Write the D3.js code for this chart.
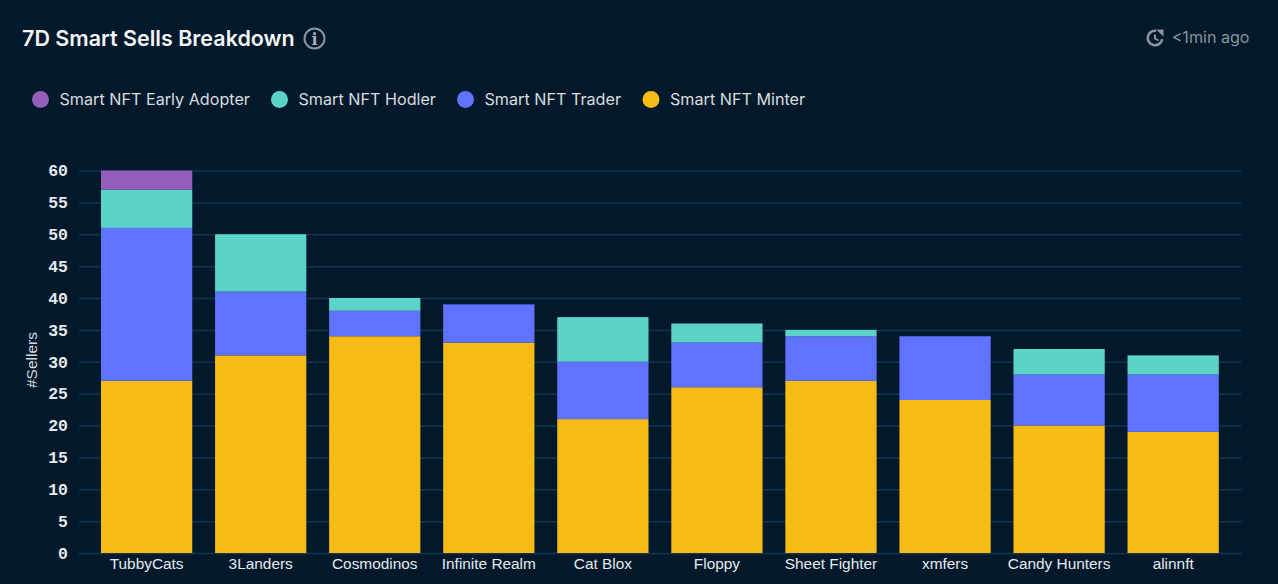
<!DOCTYPE html>
<html>
<head>
<meta charset="utf-8">
<script src="https://cdn.jsdelivr.net/npm/d3@7"></script>
<style>
html, body { margin: 0; padding: 0; background: #02192c; overflow: hidden; }
svg { display: block; }
text { font-family: Inter, sans-serif; }
</style>
</head>
<body>
<script>
var categories = ["TubbyCats", "3Landers", "Cosmodinos", "Infinite Realm", "Cat Blox", "Floppy", "Sheet Fighter", "xmfers", "Candy Hunters", "alinnft"];
var minter = [27, 31, 34, 33, 21, 26, 27, 24, 20, 19];
var trader = [24, 10, 4, 6, 9, 7, 7, 10, 8, 9];
var hodler = [6, 9, 2, 0, 7, 3, 1, 0, 4, 3];
var earlyAdopter = [3, 0, 0, 0, 0, 0, 0, 0, 0, 0];
var seriesNames = ["Smart NFT Minter", "Smart NFT Trader", "Smart NFT Hodler", "Smart NFT Early Adopter"];
var seriesColors = ["#f6bc15", "#6073ff", "#5bd3c9", "#945ebb"];
var yTicks = [0, 5, 10, 15, 20, 25, 30, 35, 40, 45, 50, 55, 60];

var seriesValues = [minter, trader, hodler, earlyAdopter];

var svg = d3.select("body").append("svg")
    .attr("width", 1278)
    .attr("height", 584);

var x = d3.scaleBand().domain(categories).range([78.2, 1241.6]).padding(0.2);
var y = d3.scaleLinear().domain([0, 60]).range([553, 170.5]);

// grid + y axis
var yAxis = svg.append("g")
    .attr("transform", "translate(79,0)")
    .call(d3.axisLeft(y).tickValues(yTicks).tickSize(0).tickPadding(11));
yAxis.select(".domain").remove();
yAxis.selectAll("text")
    .attr("fill", "#e6e9ec")
    .attr("font-size", 16.5)
    .attr("font-weight", 700)
    .style("font-family", "'Liberation Mono', monospace");
yAxis.selectAll(".tick").append("line")
    .attr("x2", 1162.5)
    .attr("stroke", "#113550")
    .attr("stroke-width", 1.5);

// stacked bars, minter at the bottom
var rows = categories.map(function(c, i) {
    var row = {name: c};
    seriesNames.forEach(function(s, j) { row[s] = seriesValues[j][i]; });
    return row;
});
var stacked = d3.stack().keys(seriesNames)(rows);

svg.selectAll(".layer")
    .data(stacked)
    .enter().append("g")
    .attr("class", "layer")
    .attr("fill", function(d, i) { return seriesColors[i]; })
    .selectAll("rect")
    .data(function(d) { return d.filter(function(p) { return p[1] > p[0]; }); })
    .enter().append("rect")
    .attr("x", function(d) { return x(d.data.name); })
    .attr("width", x.bandwidth())
    .attr("y", function(d) { return y(d[1]); })
    .attr("height", function(d) { return y(d[0]) - y(d[1]); });

// x axis
var xAxis = svg.append("g")
    .attr("transform", "translate(0,553)")
    .call(d3.axisBottom(x).tickSize(0).tickPadding(5));
xAxis.select(".domain").remove();
xAxis.selectAll("text")
    .attr("fill", "#e6e9ec")
    .attr("font-size", 15.4)
    .style("font-family", "'Liberation Sans', sans-serif");

svg.append("text")
    .attr("transform", "translate(37,360) rotate(-90)")
    .attr("text-anchor", "middle")
    .attr("fill", "#d5dade")
    .attr("font-size", 15.5)
    .style("font-family", "'Liberation Sans', sans-serif")
    .text("#Sellers");

// title
svg.append("text")
    .attr("x", 22)
    .attr("y", 45.5)
    .attr("fill", "#f2f4f5")
    .attr("font-size", 21.5)
    .attr("font-weight", 600)
    .text("7D Smart Sells Breakdown");

// info icon
var info = svg.append("g").attr("transform", "translate(314.5,38.5)");
info.append("circle")
    .attr("r", 10)
    .attr("fill", "none")
    .attr("stroke", "#8b949c")
    .attr("stroke-width", 2);
info.append("text")
    .attr("text-anchor", "middle")
    .attr("y", 6)
    .attr("fill", "#a9afb5")
    .attr("font-size", 16)
    .attr("font-weight", 700)
    .style("font-family", "'DejaVu Serif', serif")
    .text("i");

// refresh time
var clock = svg.append("g").attr("transform", "translate(1155,38)");
clock.append("path")
    .attr("d", d3.arc().innerRadius(6).outerRadius(8.6).startAngle(-Math.PI * 1.45).endAngle(0.15)())
    .attr("fill", "#8b949c");
clock.append("path")
    .attr("d", "M1,-8.6H8.5V-1.5Z")
    .attr("fill", "#8b949c");
clock.append("path")
    .attr("d", "M0,-3.5V0.5L3.5,2.5")
    .attr("fill", "none")
    .attr("stroke", "#8b949c")
    .attr("stroke-width", 2);
svg.append("text")
    .attr("x", 1249.5)
    .attr("y", 43)
    .attr("text-anchor", "end")
    .attr("fill", "#8b949c")
    .attr("font-size", 16.1)
    .text("<1min ago");

// legend, top-down order of the stack
var legendX = [40.5, 279.5, 465.5, 651];
var legendOrder = [3, 2, 1, 0];
legendOrder.forEach(function(s, i) {
    svg.append("circle")
        .attr("cx", legendX[i])
        .attr("cy", 99.5)
        .attr("r", 8.5)
        .attr("fill", seriesColors[s]);
    svg.append("text")
        .attr("x", legendX[i] + 19)
        .attr("y", 105)
        .attr("fill", "#d9dcdf")
        .attr("font-size", 16.17)
        .text(seriesNames[s]);
});
</script>
</body>
</html>
